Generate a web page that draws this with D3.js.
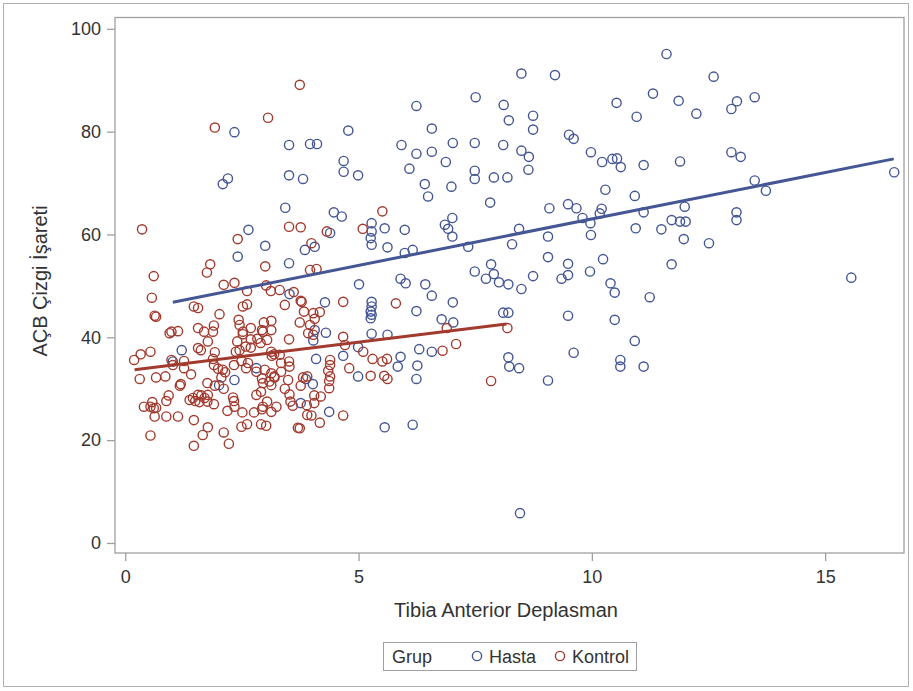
<!DOCTYPE html>
<html><head><meta charset="utf-8">
<script src="https://cdn.jsdelivr.net/npm/d3@7"></script>
<style>body{margin:0;background:#fff;font-family:"Liberation Sans",Arial,sans-serif;}</style>
</head><body><div id="chart"></div>
<script>
// Hasta group (blue): [Tibia Anterior Deplasman, AÇB Çizgi İşareti]
const hasta = [
[2.34,79.9],[3.51,77.4],[3.96,77.6],[4.11,77.6],[3.51,71.5],[3.81,70.8],[2.20,70.9],[2.09,69.8],
[7.51,86.7],[6.24,85.0],[8.11,85.2],[4.78,80.2],[6.57,80.6],[5.92,77.4],[7.02,77.8],[7.49,77.8],[8.10,77.4],
[4.68,74.3],[4.68,72.2],[4.99,71.5],[6.24,75.7],[6.57,76.1],[6.87,74.1],[6.09,72.8],[7.49,72.4],[7.49,70.8],
[7.90,71.1],[6.42,69.8],[6.99,69.3],[6.49,67.4],[7.82,66.2],
[8.49,91.3],[9.21,91.0],[11.60,95.1],[11.31,87.4],[10.53,85.6],[11.86,86.0],[12.24,83.5],[10.96,82.9],
[8.22,82.2],[8.74,83.1],[8.74,80.4],[9.51,79.4],[9.61,78.6],[8.49,76.3],[8.65,75.1],[8.64,72.6],[9.98,76.0],
[10.22,74.1],[10.44,74.7],[10.54,74.8],[10.62,73.1],[11.11,73.5],[11.89,74.2],[8.19,71.1],[10.29,68.7],[10.92,67.5],
[12.61,90.7],[13.11,85.9],[13.49,86.7],[12.99,84.4],[12.99,76.0],[13.19,75.1],[13.49,70.5],[13.73,68.5],[16.48,72.1],
[13.10,64.3],[13.10,62.8],[12.51,58.3],[15.56,51.6],
[9.09,65.1],[9.49,65.9],[9.67,65.1],[10.21,65.0],[10.17,64.1],[9.80,63.2],[9.97,62.2],[11.11,64.3],[11.99,65.4],
[11.71,62.8],[11.89,62.5],[12.01,62.5],[11.49,61.0],[10.94,61.2],[11.97,59.1],[8.44,61.1],[9.06,59.6],[9.98,59.9],
[8.29,58.1],[9.06,55.6],[9.49,54.3],[9.49,52.1],[9.35,51.4],[8.74,51.9],[10.24,55.2],[9.96,52.8],[10.40,50.5],
[10.49,48.7],[11.24,47.8],[11.71,54.2],[7.84,54.2],[7.90,52.3],[8.01,50.7],[8.21,50.3],[8.49,49.4],[8.10,44.8],
[8.21,44.8],[9.49,44.2],[10.49,43.4],[10.92,39.3],[9.61,37.0],[8.21,36.1],[8.23,34.3],[8.44,34.0],[10.61,35.6],
[10.61,34.3],[11.11,34.3],[9.06,31.6],[8.46,5.8],
[6.24,31.9],[4.37,25.5],[5.56,22.5],[6.16,23.0],[3.76,27.2],[3.87,31.9],[4.02,30.9],
[4.47,64.3],[4.64,63.5],[5.28,62.2],[5.56,61.2],[5.28,60.6],[5.26,59.3],[5.28,58.0],[5.99,60.9],[5.62,57.5],
[6.85,61.9],[7.01,63.2],[6.92,61.1],[7.01,59.6],[7.35,57.6],[5.99,56.4],[6.16,57.0],[3.85,57.0],[4.06,57.6],
[4.39,60.3],[5.01,50.3],[5.90,51.4],[6.01,50.5],[6.43,50.3],[6.57,48.1],[7.02,46.8],[7.49,52.8],[7.73,51.4],
[4.28,46.8],[5.28,46.9],[5.28,46.0],[5.26,45.0],[5.28,44.4],[5.26,43.7],[6.24,45.1],[6.78,43.5],[7.03,42.9],
[6.57,37.2],[6.30,37.7],[5.90,36.2],[6.26,34.5],[5.84,34.3],[5.28,40.7],[5.62,40.5],[4.99,38.1],[4.67,36.4],
[4.99,32.4],[4.30,40.9],[4.06,41.4],[4.03,39.4],[4.09,35.8],
[3.43,65.2],[2.64,60.9],[3.00,57.8],[2.41,55.7],[3.51,54.4],[3.52,48.4],[1.21,37.5],[1.02,35.3],[2.81,34.0],
[2.01,30.7],[2.34,31.7]
];
// Kontrol group (red)
const kontrol = [
[3.74,89.1],[3.06,82.7],[1.92,80.8],[0.36,61.0],[3.51,61.5],[3.76,61.4],[2.41,59.1],[3.00,53.8],[1.82,54.2],
[1.75,52.6],[0.61,51.9],[2.11,50.2],[2.34,50.6],[3.02,50.1],[3.12,49.0],[3.31,49.2],[2.61,49.0],[3.61,48.8],
[0.57,47.7],[3.76,47.1],[1.47,46.0],[1.56,45.7],[2.52,46.0],[2.61,46.4],[3.42,46.3],[0.63,44.2],[0.66,44.0],
[2.02,44.5],[2.43,43.4],[2.45,42.4],[2.52,41.1],[1.90,42.3],[1.88,41.1],[1.69,41.1],[1.56,41.8],[0.99,41.1],
[1.13,41.2],[0.95,40.8],[2.69,41.8],[2.97,42.9],[3.13,43.2],[3.13,41.4],[2.95,41.1],[2.52,40.6],[1.77,39.2],
[1.56,37.9],[1.62,37.5],[1.92,37.1],[0.33,36.7],[0.54,37.2],[0.19,35.6],[0.99,35.6],[1.02,34.6],[1.26,35.4],
[1.26,34.0],[1.41,32.8],[0.31,31.9],[0.66,32.2],[0.86,32.4],[2.40,39.2],[2.45,37.5],[2.37,37.2],[2.69,39.6],
[2.83,39.7],[2.90,38.9],[3.04,39.5],[2.93,41.4],[2.58,38.2],[2.69,38.0],[3.13,37.2],[3.19,36.7],[3.14,36.4],
[3.31,36.6],[3.51,39.6],[1.88,35.8],[1.90,34.6],[1.99,33.9],[2.09,33.7],[2.33,34.6],[2.49,35.4],[2.59,34.0],
[2.63,35.0],[2.81,33.3],[2.99,33.7],[3.13,33.0],[3.20,32.2],[3.34,35.0],[3.34,33.3],[3.51,35.3],[3.52,34.3],
[3.81,32.2],[3.90,32.4],[2.14,33.2],[2.06,32.2],
[1.17,30.6],[1.19,30.9],[0.93,28.7],[0.88,27.6],[0.40,26.5],[0.58,27.4],[0.54,26.5],[0.61,26.2],[0.66,26.3],
[0.63,24.6],[0.88,24.6],[1.13,24.6],[0.54,20.9],[1.38,27.8],[1.45,28.2],[1.50,27.6],[1.56,28.8],[1.63,28.7],
[1.59,27.4],[1.76,27.5],[1.70,28.2],[1.90,27.0],[1.77,28.8],[1.47,23.9],[1.77,22.5],[1.66,21.0],[1.47,18.9],
[1.76,31.1],[1.92,30.6],[2.11,30.0],[2.31,28.3],[2.33,27.6],[2.19,25.7],[2.34,26.5],[2.51,25.4],[2.11,21.5],
[2.22,19.3],[2.49,22.6],[2.61,23.1],[2.76,25.4],[2.93,26.0],[2.95,26.5],[3.04,27.5],[3.13,25.5],[3.24,26.5],
[2.91,23.1],[3.02,22.8],[2.81,28.8],[2.91,29.4],[2.95,31.1],[3.13,30.7],[3.09,31.4],[2.93,32.0],[3.19,32.4],
[3.42,30.0],[3.52,28.9],[3.54,27.5],[3.59,26.7],[3.49,31.7],[3.76,30.6],[3.70,22.4],[3.90,24.9],
[5.26,32.5],[5.55,32.5],[5.62,31.9],[7.84,31.5],[4.67,24.8],[4.17,23.4],[3.99,24.8],[3.74,22.3],[3.89,26.8],
[4.05,27.2],[4.05,28.7],[4.19,28.5],[4.37,30.1],[4.37,31.5],[4.39,32.4],
[8.19,41.8],[5.51,64.5],[4.32,60.6],[5.09,61.1],[3.99,58.3],[3.96,53.1],[4.10,53.3],[4.67,46.9],[5.80,46.6],
[6.89,41.8],[7.09,38.7],[6.80,37.4],[5.10,37.2],[5.30,35.8],[5.51,35.3],[5.61,35.8],[4.80,34.0],
[3.96,42.4],[4.06,43.6],[4.03,44.7],[4.17,44.9],[3.92,40.8],[4.03,40.5],[3.78,46.9],[3.83,45.0],[3.74,42.9],
[4.67,40.1],[4.71,38.5],[4.39,35.6],[4.39,34.6],[4.35,33.5]
];
// fitted regression lines (endpoints)
const hastaFit = [[1.02,46.8],[16.47,74.7]];
const kontrolFit = [[0.20,33.7],[8.17,42.6]];
const xTicks = [0,5,10,15];
const yTicks = [0,20,40,60,80,100];
const groups = ["Hasta","Kontrol"];
const colors = ["#445694","#A23A2E"];

const W=913,H=691;
const FONT="'Liberation Sans',Arial,sans-serif";
const svg=d3.select("#chart").append("svg").attr("width",W).attr("height",H).style("font-family",FONT);
// outer border
svg.append("rect").attr("x",3.5).attr("y",3.5).attr("width",905).attr("height",683)
  .attr("fill","none").attr("stroke","#b0b0b0").attr("stroke-width",1);

const L=115,R=904,T=17.5,B=553;
const x=d3.scaleLinear().domain([-0.22,16.69]).range([L,R]);
const y=d3.scaleLinear().domain([-1.95,102.2]).range([B,T]);

// plot frame
svg.append("rect").attr("x",L).attr("y",T).attr("width",R-L).attr("height",B-T)
  .attr("fill","none").attr("stroke","#a0a0a0").attr("stroke-width",1.3);

const xa=svg.append("g").attr("transform",`translate(0,${B})`)
  .call(d3.axisBottom(x).tickValues(xTicks).tickSize(8).tickPadding(9).tickFormat(d3.format("d")));
const ya=svg.append("g").attr("transform",`translate(${L},0)`)
  .call(d3.axisLeft(y).tickValues(yTicks).tickSize(8).tickPadding(6).tickFormat(d3.format("d")));
[xa,ya].forEach(a=>{
  a.select(".domain").remove();
  a.selectAll(".tick line").attr("stroke","#a0a0a0").attr("stroke-width",1.3);
  a.selectAll("text").attr("fill","#333").style("font-size","18px").style("font-family",FONT);
});

const data=[hasta,kontrol];
const fits=[hastaFit,kontrolFit];
const line=d3.line().x(d=>x(d[0])).y(d=>y(d[1]));
data.forEach((arr,i)=>{
  svg.append("g").selectAll("circle").data(arr).join("circle")
    .attr("cx",d=>x(d[0])).attr("cy",d=>y(d[1])).attr("r",4.6)
    .attr("fill","none").attr("stroke",colors[i]).attr("stroke-width",1.4);
});
fits.forEach((f,i)=>{
  svg.append("path").attr("d",line(f)).attr("stroke",colors[i]).attr("stroke-width",3).attr("fill","none");
});

// axis titles
svg.append("text").attr("x",506).attr("y",617).attr("text-anchor","middle")
  .style("font-size","20px").attr("fill","#333").text("Tibia Anterior Deplasman");
svg.append("text").attr("transform",`translate(47,281) rotate(-90)`).attr("text-anchor","middle")
  .style("font-size","20px").attr("fill","#333").text("AÇB Çizgi İşareti");

// legend
const lg=svg.append("g");
lg.append("rect").attr("x",383.5).attr("y",642.5).attr("width",253).attr("height",28)
  .attr("fill","none").attr("stroke","#a0a0a0");
lg.append("text").attr("x",392).attr("y",663).style("font-size","18px").attr("fill","#333").text("Grup");
const lx=[477,560];
groups.forEach((g,i)=>{
  lg.append("circle").attr("cx",lx[i]).attr("cy",656).attr("r",4.6).attr("fill","none")
    .attr("stroke",colors[i]).attr("stroke-width",1.4);
  lg.append("text").attr("x",lx[i]+12).attr("y",663).style("font-size","18px").attr("fill","#333").text(g);
});
</script></body></html>
